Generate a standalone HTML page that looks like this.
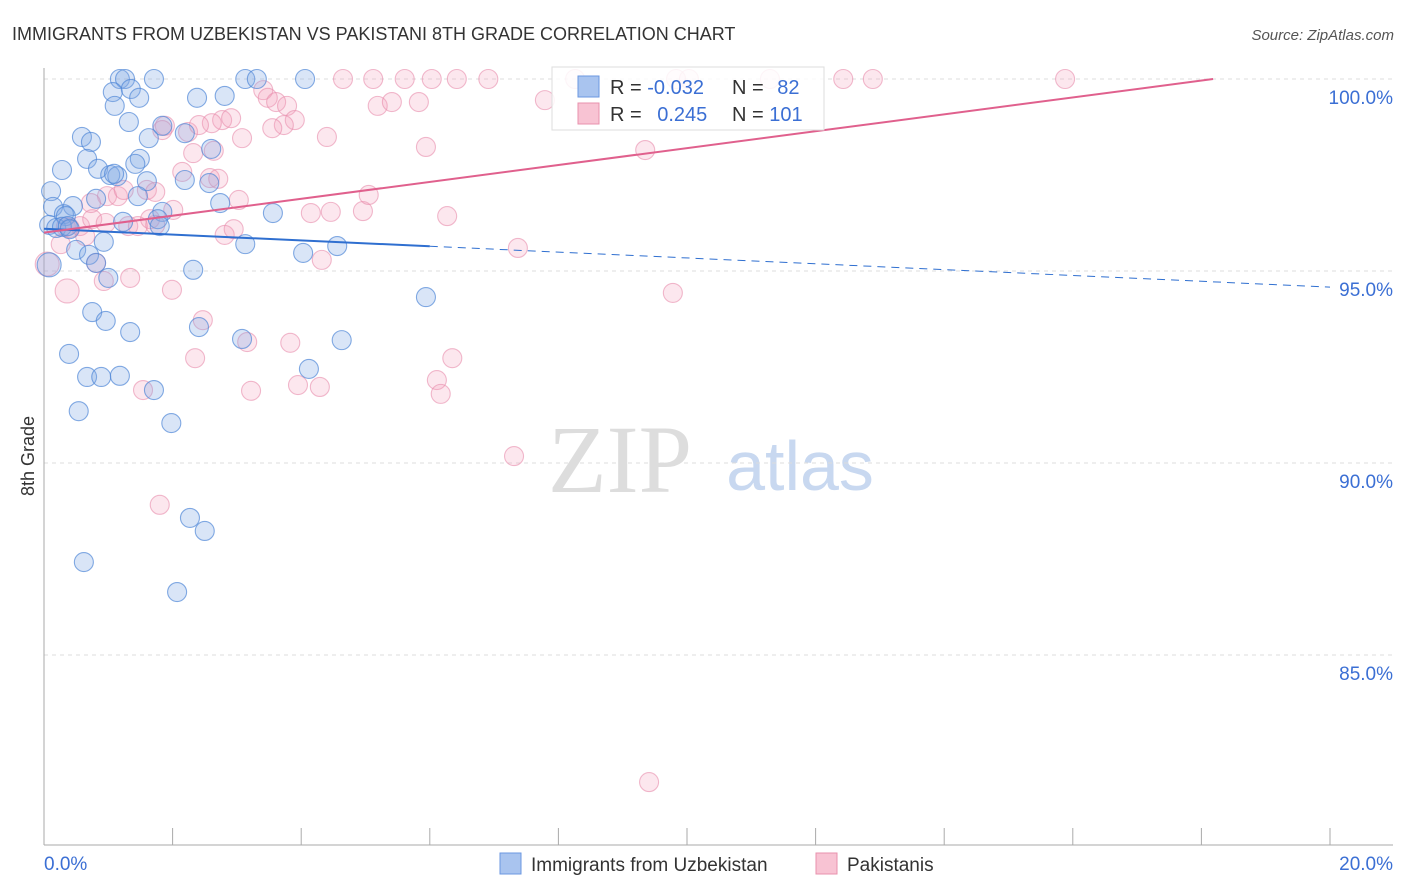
<!DOCTYPE html>
<html><head><meta charset="utf-8"><style>
body{margin:0;background:#fff;font-family:"Liberation Sans",sans-serif;}
#wrap{position:relative;width:1406px;height:892px;overflow:hidden;}
</style></head><body>
<div id="wrap">
<svg id="svg" width="1406" height="892">
<text x="12" y="40" font-size="18" fill="#333">IMMIGRANTS FROM UZBEKISTAN VS PAKISTANI 8TH GRADE CORRELATION CHART</text>
<text x="1394" y="40" font-size="15" fill="#555" font-style="italic" text-anchor="end">Source: ZipAtlas.com</text>
<text x="34" y="456" font-size="18" fill="#333" transform="rotate(-90 34 456)" text-anchor="middle">8th Grade</text>
<text x="620" y="492" font-size="96" fill="#ddd" font-family="Liberation Serif,serif" text-anchor="middle">ZIP</text>
<text x="800" y="490" font-size="70" fill="#c8d8f0" text-anchor="middle">atlas</text>
<g id="grid"></g><g id="axes"></g><g id="pts"></g><g id="trend"></g>
<g>
<rect x="552" y="67" width="272" height="63" fill="#fff" fill-opacity="0.85" stroke="#ddd"/>
<rect x="578" y="76" width="21" height="21" fill="#a9c4ef" stroke="#6b97e0"/>
<rect x="578" y="103" width="21" height="21" fill="#f8c3d3" stroke="#e891ad"/>
<text x="610" y="94" font-size="20" fill="#333">R = <tspan fill="#3b6fd4">-0.032</tspan></text>
<text x="732" y="94" font-size="20" fill="#333">N = <tspan fill="#3b6fd4" dx="8">82</tspan></text>
<text x="610" y="121" font-size="20" fill="#333">R = <tspan fill="#3b6fd4" dx="10">0.245</tspan></text>
<text x="732" y="121" font-size="20" fill="#333">N = <tspan fill="#3b6fd4">101</tspan></text>
</g>
<g>
<rect x="500" y="853" width="21" height="21" fill="#a9c4ef" stroke="#6b97e0"/>
<text x="531" y="871" font-size="19" fill="#333">Immigrants from Uzbekistan</text>
<rect x="816" y="853" width="21" height="21" fill="#f8c3d3" stroke="#e891ad"/>
<text x="847" y="871" font-size="19" fill="#333">Pakistanis</text>
</g>
</svg>
</div>
<script>
const blueX=[1.18,1.26,1.71,3.13,3.31,4.06,1.07,1.35,1.48,1.10,1.32,2.81,2.38,1.63,1.84,0.59,0.73,2.19,2.60,0.67,1.49,1.42,0.28,0.84,1.03,1.14,1.09,2.19,1.60,2.57,0.11,1.46,0.81,2.74,3.56,0.14,0.45,0.31,0.34,1.84,1.77,1.80,1.23,0.08,0.19,0.28,0.37,0.40,0.93,0.50,0.70,0.81,3.13,4.03,4.56,1.00,2.32,5.94,0.75,0.96,1.34,2.41,3.08,4.63,0.39,4.12,0.67,0.89,1.18,1.71,0.54,1.98,2.27,2.50,0.62,2.07,0.08];
const blueY=[100,100,100,100,100,100,99.66,99.74,99.51,99.30,98.88,99.56,99.51,98.46,98.78,98.49,98.36,98.59,98.18,97.92,97.92,97.79,97.63,97.66,97.50,97.47,97.53,97.37,97.34,97.29,97.08,96.95,96.88,96.77,96.51,96.67,96.69,96.48,96.43,96.54,96.35,96.17,96.28,96.20,96.12,96.15,96.17,96.09,95.76,95.55,95.42,95.21,95.70,95.47,95.65,94.82,95.03,94.32,93.93,93.70,93.41,93.54,93.23,93.20,92.84,92.45,92.24,92.24,92.27,91.90,91.35,91.04,88.57,88.23,87.42,86.64,95.16];
const pinkX=[0.34,0.40,0.56,0.75,0.96,1.31,1.46,1.65,1.73,0.98,1.15,1.24,1.60,1.73,2.01,2.15,2.58,2.71,1.88,1.84,2.24,2.77,2.91,2.61,2.41,3.41,3.48,3.61,3.78,3.90,3.73,3.55,3.08,2.64,2.32,2.81,3.03,4.15,4.46,4.96,5.05,4.40,4.65,5.12,5.61,6.03,6.42,6.91,5.19,5.41,5.83,5.94,6.27,7.37,7.79,8.26,9.35,9.83,10.03,11.29,12.43,12.89,15.88,4.32,1.99,2.47,2.35,3.16,3.83,3.95,4.29,3.22,1.54,1.34,0.93,0.81,0.36,0.05,6.11,6.17,6.35,9.78,7.31,1.80,9.41,0.26,0.64,2.95,0.73];
const pinkY=[96.15,96.12,96.17,96.35,96.25,96.17,96.17,96.35,96.20,96.95,96.95,97.11,97.11,97.06,96.59,97.58,97.42,97.40,98.78,98.67,98.62,98.93,98.98,98.85,98.80,99.71,99.51,99.40,99.30,98.93,98.80,98.72,98.46,98.13,98.07,95.94,96.85,96.51,96.54,96.56,96.98,98.49,100,100,100,100,100,100,99.30,99.40,99.40,98.23,96.43,95.60,99.45,100,98.15,100,100,100,100,100,100,95.29,94.51,93.72,92.73,93.15,93.13,92.03,91.98,91.88,91.90,94.82,94.74,95.21,94.48,95.18,92.16,91.80,92.73,94.43,90.18,88.91,81.69,95.70,95.91,96.09,96.77];
const yTicks=[100,95,90,85];
const yTickLabels=["100.0%","95.0%","90.0%","85.0%"];
const blueTrend=[96.10,94.58];
const pinkTrend=[96.0,100.4];
const NS="http://www.w3.org/2000/svg";
const X=v=>44+v*64.3, Y=v=>79+(100-v)*38.4;
function mk(tag,at,parent){const e=document.createElementNS(NS,tag);for(const k in at)e.setAttribute(k,at[k]);document.getElementById(parent).appendChild(e);return e;}
yTicks.forEach((t,i)=>{
 const l=mk('line',{x1:44,x2:1393,y1:Y(t),y2:Y(t),stroke:'#ddd','stroke-dasharray':'4 4'},'grid');
 
 
 const tx=mk('text',{x:1393,y:Y(t)+25,'font-size':19,fill:'#3b6fd4','text-anchor':'end'},'axes');
 tx.textContent=yTickLabels[i];
 
 
});
let a=mk('line',{x1:44,x2:44,y1:68,y2:845,stroke:'#aaa'},'axes');


a=mk('line',{x1:44,x2:1393,y1:845,y2:845,stroke:'#aaa'},'axes');


for(let v=2;v<=20;v+=2){const t=mk('line',{x1:X(v),x2:X(v),y1:828,y2:845,stroke:'#aaa'},'axes');
 
 }
let xl=mk('text',{x:44,y:870,'font-size':19,fill:'#3b6fd4'},'axes');xl.textContent='0.0%';


xl=mk('text',{x:1393,y:870,'font-size':19,fill:'#3b6fd4','text-anchor':'end'},'axes');xl.textContent='20.0%';


function pts(xs,ys,fill,stroke,name){xs.forEach((x,i)=>{const big=(x<0.1&&ys[i]>95&&ys[i]<95.3)||(x===0.36&&ys[i]===94.48);
 const c=mk('circle',{cx:X(x),cy:Y(ys[i]),r:big?12:9.5,fill:fill,stroke:stroke,'stroke-width':1.1},'pts');
 
 });}
pts(pinkX,pinkY,'rgba(244,160,188,0.25)','rgba(232,140,172,0.6)','pakistani-point');
pts(blueX,blueY,'rgba(130,170,230,0.3)','rgba(80,135,215,0.7)','uzbekistan-point');
const bx=6, by=blueTrend[0]+(blueTrend[1]-blueTrend[0])*bx/20;
let t=mk('line',{x1:X(0),y1:Y(blueTrend[0]),x2:X(bx),y2:Y(by),stroke:'#2f6fd0','stroke-width':2},'trend');


t=mk('line',{x1:X(bx),y1:Y(by),x2:X(20),y2:Y(blueTrend[1]),stroke:'#2f6fd0','stroke-width':1,'stroke-dasharray':'8 6'},'trend');


const px=20*(100-pinkTrend[0])/(pinkTrend[1]-pinkTrend[0]);
t=mk('line',{x1:X(0),y1:Y(pinkTrend[0]),x2:X(px),y2:Y(100),stroke:'#e0608d','stroke-width':2},'trend');


</script>
</body></html>
